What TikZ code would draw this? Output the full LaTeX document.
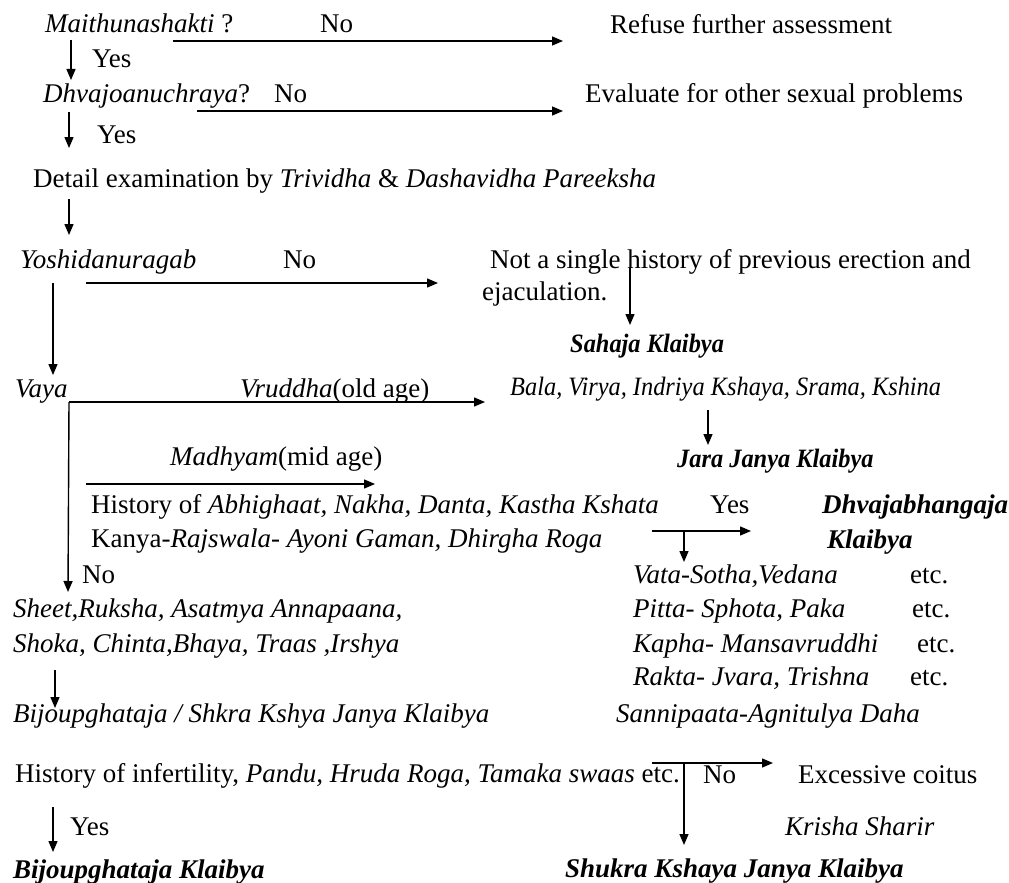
\documentclass[tikz,border=0pt]{standalone}
\usepackage{fontspec}
\setmainfont{Liberation Serif}
\newfontfamily\narrowserif[FakeStretch=0.92]{Liberation Serif}
\usetikzlibrary{arrows.meta}
\begin{document}
\begin{tikzpicture}[x=1pt,y=-1pt,
  txt/.style={anchor=base west,inner sep=0pt,font=\fontsize{27}{32}\selectfont},
  txtn/.style={anchor=base west,inner sep=0pt,font=\narrowserif\fontsize{26.5}{31}\selectfont},
  arr/.style={line width=1.4pt,-{Triangle[length=11pt,width=9pt]}},
  ln/.style={line width=1.4pt}]
\useasboundingbox (0,0) rectangle (1009,883);
% texts
\node[txt] (q1) at (45,33) {\textit{Maithunashakti} ?};
\node[txt] (no1) at (320,33) {No};
\node[txt] (refuse) at (610,34) {Refuse further assessment};
\node[txt] (yes1) at (92,67) {Yes};
\node[txt] (q2) at (43,102) {\textit{Dhvajoanuchraya}?};
\node[txt] (no2) at (274,102) {No};
\node[txt] (eval) at (585,102) {Evaluate for other sexual problems};
\node[txt] (yes2) at (97,143) {Yes};
\node[txt] (detail) at (33,187) {Detail examination by \textit{Trividha} \& \textit{Dashavidha Pareeksha}};
\node[txt] (yosh) at (20,268) {\textit{Yoshidanuragab}};
\node[txt] (no3) at (283,268) {No};
\node[txt] (notsingle) at (490,268) {Not a single history of previous erection and};
\node[txt] (ejac) at (482,300) {ejaculation.};
\node[txtn] (sahaja) at (570,352) {\textbf{\textit{Sahaja Klaibya}}};
\node[txt] (vaya) at (15,397) {\textit{Vaya}};
\node[txt] (vrud) at (240,397) {\textit{Vruddha}(old age)};
\node[txtn] (bala) at (510,395) {\textit{Bala, Virya, Indriya Kshaya, Srama, Kshina}};
\node[txtn] (jara) at (677,467) {\textbf{\textit{Jara Janya Klaibya}}};
\node[txt] (madh) at (170,465) {\textit{Madhyam}(mid age)};
\node[txt] (hist1) at (91,513) {History of \textit{Abhighaat, Nakha, Danta, Kastha Kshata}};
\node[txt] (hist2) at (91,547) {Kanya-\textit{Rajswala- Ayoni Gaman, Dhirgha Roga}};
\node[txt] (yes3) at (710,513) {Yes};
\node[txt] (dhvb1) at (822,513) {\textbf{\textit{Dhvajabhangaja}}};
\node[txt] (dhvb2) at (827,548) {\textbf{\textit{Klaibya}}};
\node[txt] (no4) at (82,583) {No};
\node[txt] (vata) at (633,583) {\textit{Vata-Sotha,Vedana}};
\node[txt] (etc1) at (910,583) {etc.};
\node[txt] (pitta) at (633,617) {\textit{Pitta- Sphota, Paka}};
\node[txt] (etc2) at (912,617) {etc.};
\node[txt] (kapha) at (633,652) {\textit{Kapha- Mansavruddhi}};
\node[txt] (etc3) at (917,652) {etc.};
\node[txt] (rakta) at (633,685) {\textit{Rakta- Jvara, Trishna}};
\node[txt] (etc4) at (910,685) {etc.};
\node[txt] (sanni) at (616,722) {\textit{Sannipaata-Agnitulya Daha}};
\node[txt] (sheet) at (13,617) {\textit{Sheet,Ruksha, Asatmya Annapaana,}};
\node[txt] (shoka) at (13,652) {\textit{Shoka, Chinta,Bhaya, Traas ,Irshya}};
\node[txt] (bijo1) at (13,722) {\textit{Bijoupghataja / Shkra Kshya Janya Klaibya}};
\node[txt] (infert) at (15,782) {History of infertility, \textit{Pandu, Hruda Roga, Tamaka swaas} etc.};
\node[txt] (no5) at (703,783) {No};
\node[txt] (exc) at (798,783) {Excessive coitus};
\node[txt] (yes4) at (70,835) {Yes};
\node[txt] (krisha) at (785,835) {\textit{Krisha Sharir}};
\node[txt] (bijo2) at (13,878) {\textbf{\textit{Bijoupghataja Klaibya}}};
\node[txt] (shukra) at (565,877) {\textbf{\textit{Shukra Kshaya Janya Klaibya}}};
% coordinates
\coordinate (a1s) at (173,41);   \coordinate (a1e) at (563,41);
\coordinate (d1s) at (71,40);    \coordinate (d1e) at (71,80);
\coordinate (a2s) at (197,111);  \coordinate (a2e) at (563,111);
\coordinate (d2s) at (69,112);   \coordinate (d2e) at (69,148);
\coordinate (d3s) at (69,199);   \coordinate (d3e) at (69,235);
\coordinate (a3s) at (86,283);   \coordinate (a3e) at (438,283);
\coordinate (d4s) at (53,283);   \coordinate (d4e) at (53,375);
\coordinate (d5s) at (630,268);  \coordinate (d5e) at (630,325);
\coordinate (a4s) at (69,402);   \coordinate (a4e) at (485,402);
\coordinate (d6e) at (68,592);
\coordinate (d7s) at (708,410);  \coordinate (d7e) at (708,445);
\coordinate (a5s) at (86,484);   \coordinate (a5e) at (375,484);
\coordinate (a6s) at (652,531);  \coordinate (a6e) at (751,531);
\coordinate (d8s) at (684,531);  \coordinate (d8e) at (684,562);
\coordinate (d9s) at (55,670);   \coordinate (d9e) at (55,708);
\coordinate (a7s) at (652,763);  \coordinate (a7e) at (773,763);
\coordinate (d10s) at (684,763); \coordinate (d10e) at (684,845);
\coordinate (d11s) at (53,807);  \coordinate (d11e) at (53,852);
% connectors
\draw[arr] (a1s) -- (a1e);
\draw[arr] (d1s) -- (d1e);
\draw[arr] (a2s) -- (a2e);
\draw[arr] (d2s) -- (d2e);
\draw[arr] (d3s) -- (d3e);
\draw[arr] (a3s) -- (a3e);
\draw[arr] (d4s) -- (d4e);
\draw[arr] (d5s) -- (d5e);
\draw[arr] (a4s) -- (a4e);
\draw[arr] (a4s) -- (d6e);
\draw[arr] (d7s) -- (d7e);
\draw[arr] (a5s) -- (a5e);
\draw[arr] (a6s) -- (a6e);
\draw[arr] (d8s) -- (d8e);
\draw[arr] (d9s) -- (d9e);
\draw[arr] (a7s) -- (a7e);
\draw[arr] (d10s) -- (d10e);
\draw[arr] (d11s) -- (d11e);
\end{tikzpicture}
\end{document}
